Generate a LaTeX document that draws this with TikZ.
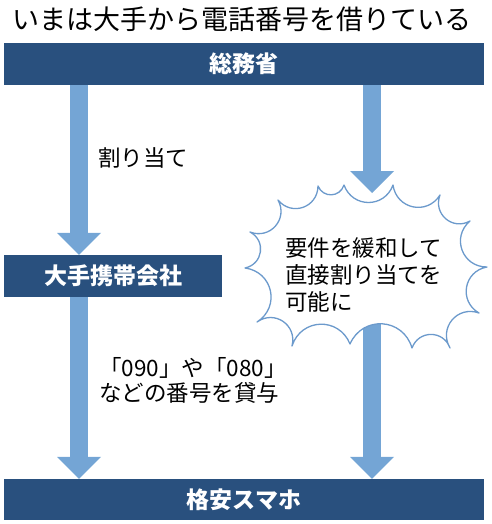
\documentclass[tikz,border=0pt]{standalone}
\usepackage{fontspec}
\setmainfont{Noto Sans CJK JP}
\usepackage{tikz}
\usetikzlibrary{arrows.meta,positioning}
\definecolor{barblue}{RGB}{41,80,126}
\definecolor{arrowblue}{RGB}{116,165,213}
\definecolor{burstblue}{RGB}{108,154,204}

\begin{document}
\begin{tikzpicture}[x=1pt,y=-1pt,
    bar/.style={fill=barblue,text=white,inner sep=0pt,minimum height=42pt,
      font=\fontsize{23}{26}\selectfont\bfseries},
    fatarrow/.style={arrowblue,line width=18pt,
      -{Triangle[width=44pt,length=22pt,line width=0pt]}},
    note/.style={inner sep=0pt,align=left,font=\fontsize{22.5}{25}\selectfont}]
  \useasboundingbox (0,0) rectangle (491,524);

  % title
  \node[inner sep=0pt,font=\fontsize{27}{30}\selectfont] (title) at (242,19)
    {いまは大手から電話番号を借りている};

  % bars
  \node[bar,minimum width=480pt] (somu) at (244,64) {総務省};
  \node[bar,minimum width=218pt] (oote) at (113,276) {大手携帯会社};
  \node[bar,minimum width=480pt,minimum height=41pt] (kakuyasu) at (244,499.5) {格安スマホ};

  % arrow columns
  \coordinate (lx) at (79,0);
  \coordinate (rx) at (372,0);
  \coordinate (btip) at (372,193);
  \coordinate (bbot) at (372,300);

  \draw[fatarrow] (somu.south -| lx) -- (oote.north -| lx);
  \draw[fatarrow] (oote.south -| lx) -- (kakuyasu.north -| lx);
  \draw[fatarrow] (bbot) -- (kakuyasu.north -| rx);

  % burst
  \draw[burstblue,line width=1.3pt,line join=round,fill=white] (278,200)
    \foreach \x/\y in {318/186,344/185,393/185,440/195,470/221,487/267,479/313,
      450/348,412/348,350/344,292/346,257/322,245/268,250/232}
      { to[bend right=70,looseness=1.3] (\x,\y) }
    to[bend right=70,looseness=1.3] (278,200) -- cycle;
  \draw[fatarrow] (somu.south -| rx) -- (btip);

  % labels
  \node[note,anchor=west] (wariate) at (98,158) {割り当て};
  \node[note,anchor=west] (kashi) at (99,380) {「090」や「080」\\などの番号を貸与};
  \node[note,anchor=west,font=\fontsize{22.5}{27}\selectfont] (kanwa) at (285,275)
    {要件を緩和して\\直接割り当てを\\可能に};
\end{tikzpicture}
\end{document}
